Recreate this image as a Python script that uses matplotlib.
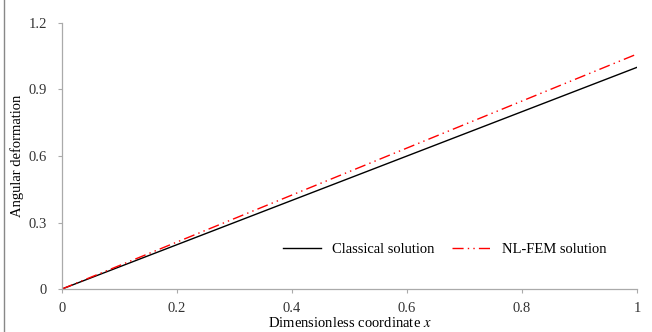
import matplotlib
matplotlib.use('Agg')
import matplotlib.pyplot as plt
import numpy as np

# data
x = [0.0, 0.1, 0.2, 0.3, 0.4, 0.5, 0.6, 0.7, 0.8, 0.9, 1.0]
classical = [0.0, 0.1, 0.2, 0.3, 0.4, 0.5, 0.6, 0.7, 0.8, 0.9, 1.0]
nlfem = [0.0, 0.106, 0.212, 0.318, 0.424, 0.53, 0.636, 0.742, 0.848, 0.954, 1.06]
xticks = [0, 0.2, 0.4, 0.6, 0.8, 1]
xticklabels = ['0', '0.2', '0.4', '0.6', '0.8', '1']
yticks = [0, 0.3, 0.6, 0.9, 1.2]
yticklabels = ['0', '0.3', '0.6', '0.9', '1.2']

plt.rcParams['font.family'] = ['Liberation Serif', 'DejaVu Serif']
plt.rcParams['mathtext.fontset'] = 'stix'

fig = plt.figure(figsize=(6.52, 3.32), dpi=100)
ax = fig.add_axes([62/652, 1 - 289/332, (637-62)/652, (289-23)/332])

ax.plot(x, classical, color='black', lw=1.0, label='Classical solution')
ax.plot(x, nlfem, color='red', lw=1.0, linestyle=(0, (8, 3, 1, 3, 1, 3)), label='NL-FEM solution')

ax.set_xlim(0, 1)
ax.set_ylim(0, 1.2)
ax.set_xticks(xticks)
ax.set_xticklabels(xticklabels)
ax.set_yticks(yticks)
ax.set_yticklabels(yticklabels)
ax.tick_params(labelsize=10.5, colors='#333333', length=3, color='#aaaaaa', width=0.8)
ax.tick_params(axis='x', pad=6)
ax.tick_params(axis='y', pad=8)
for s in ['top', 'right']:
    ax.spines[s].set_visible(False)
for s in ['left', 'bottom']:
    ax.spines[s].set_color('#aaaaaa')
    ax.spines[s].set_linewidth(0.9)

ax.set_xlabel('Dimensionless coordinate $x$', fontsize=10.5, labelpad=1)
fig.text(17/652, 1 - 156/332, 'Angular deformation', rotation=90, fontsize=10.5,
         ha='center', va='center')
ax.legend(loc='center', bbox_to_anchor=(0.665, 0.15), ncol=2, frameon=False,
          fontsize=10.5, handlelength=2.6, columnspacing=1.2)

fig.add_artist(plt.Line2D([4/652, 4/652], [0, 1], color='#888888', lw=1.0))

plt.savefig('out.png', dpi=100)
